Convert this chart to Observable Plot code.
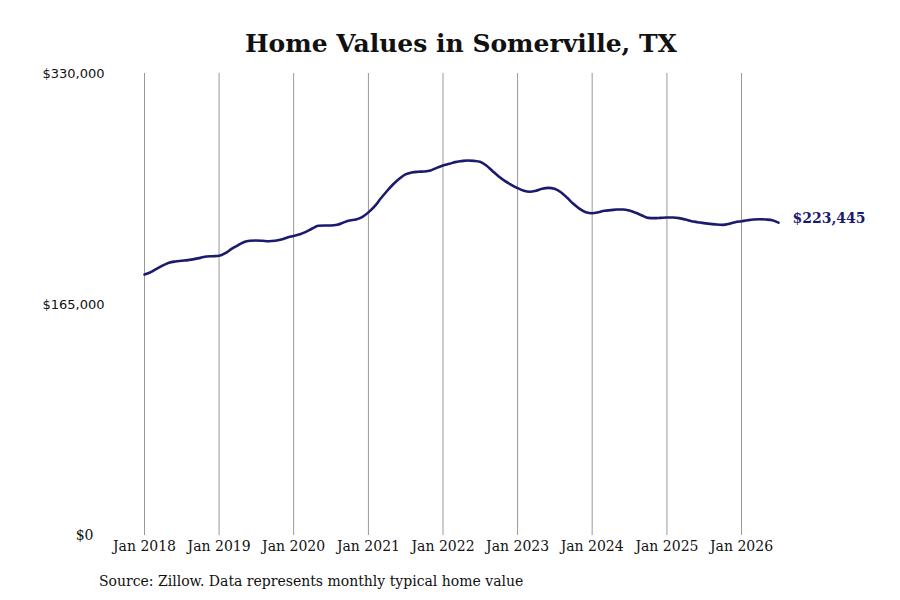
<!DOCTYPE html>
<html>
<head>
<meta charset="utf-8">
<script src="https://cdn.jsdelivr.net/npm/d3@7"></script>
<script src="https://cdn.jsdelivr.net/npm/@observablehq/plot@0.6"></script>
<style>
  html, body { margin: 0; padding: 0; background: #fff; }
  body { width: 900px; height: 600px; overflow: hidden; }
  #title { height: 32px; padding-top: 28px; line-height: 32px; text-align: center; padding-left: 22px;
           font-family: "DejaVu Serif", serif; font-weight: bold; font-size: 25px; color: #111; }
  #caption { margin-top: 11px; padding-left: 99px; line-height: 20px; font-size: 14px;
             font-family: "DejaVu Serif", serif; color: #111; }
  #chart svg { display: block; }
</style>
</head>
<body>
<div id="title">Home Values in Somerville, TX</div>
<div id="chart"></div>
<div id="caption">Source: Zillow. Data represents monthly typical home value</div>
<script>
const startMonth = "2018-01-01";
const endMonth = "2026-07-01";
const values = [
  186400, 188100, 190500, 192900, 194800, 195700, 196200, 196700, 197400, 198300, 199300, 199500,
  199800, 201700, 204500, 207100, 209500, 210500, 210700, 210500, 210200, 210500, 211400, 212900,
  214000, 215200, 216900, 219300, 221200, 221400, 221400, 221900, 223600, 225000, 225700, 227400,
  230800, 235200, 240500, 245900, 250700, 254800, 257900, 259300, 259800, 260000, 260700, 262600,
  264300, 265500, 266700, 267400, 267900, 267600, 266900, 264300, 260200, 256400, 253100, 250500,
  248100, 246200, 245500, 246200, 247600, 248300, 247600, 245200, 241200, 236900, 233300, 230900,
  230200, 230900, 231900, 232400, 232900, 232900, 232100, 230500, 228600, 226900, 226700, 226900,
  227100, 227100, 226700, 225700, 224500, 223800, 223100, 222600, 222100, 221900, 222600, 223800,
  224500, 225200, 225700, 225900, 225700, 225200, 223445
];
const xTickYears = [2018, 2019, 2020, 2021, 2022, 2023, 2024, 2025, 2026];
const yTicksUpper = [330000, 165000];
const yTicksZero = [0];
const yMax = 330000;

const start = new Date(startMonth);
const end = new Date(endMonth);
const months = d3.utcMonth.range(start, d3.utcMonth.offset(end, 1));
const data = months.map((d, i) => ({date: d, value: values[i]}));
const xTicks = xTickYears.map(y => new Date(Date.UTC(y, 0, 1)));
const last = data[data.length - 1];

const navy = "#1a1a6e";
const serif = "'DejaVu Serif', serif";

const chart = Plot.plot({
  width: 900,
  height: 500,
  marginTop: 13,
  marginBottom: 25,
  marginLeft: 144,
  marginRight: 122,
  style: {fontFamily: serif, fontSize: "14px", color: "#111", background: "#fff"},
  x: {type: "utc", domain: [start, end]},
  y: {domain: [0, yMax]},
  marks: [
    Plot.gridX(xTicks, {stroke: "#999", strokeOpacity: 1, strokeWidth: 1}),
    Plot.axisX(xTicks, {tickSize: 0, tickPadding: 6, tickFormat: d3.utcFormat("Jan %Y"), fontSize: 14, fontFamily: serif, label: null, fill: "#111"}),
    Plot.axisY(yTicksUpper, {anchor: "left", tickSize: 0, tickPadding: 0, textAnchor: "start", dx: -102,
      tickFormat: d => "$" + d3.format(",")(d), fontSize: 13, fontFamily: "'DejaVu Sans', sans-serif", label: null, fill: "#111"}),
    Plot.axisY(yTicksZero, {anchor: "left", tickSize: 0, tickPadding: 0, textAnchor: "end", dx: -51,
      tickFormat: d => "$" + d3.format(",")(d), fontSize: 14, fontFamily: serif, label: null, fill: "#111"}),
    Plot.line(data, {x: "date", y: "value", stroke: navy, strokeWidth: 2.6, curve: "monotone-x"}),
    Plot.text([last], {x: "date", y: "value", text: d => "$" + d3.format(",")(d.value), dx: 14, dy: -4,
      textAnchor: "start", fontWeight: "bold", fontSize: 14, fill: navy, fontFamily: serif})
  ]
});
document.getElementById("chart").appendChild(chart);
</script>
</body>
</html>
